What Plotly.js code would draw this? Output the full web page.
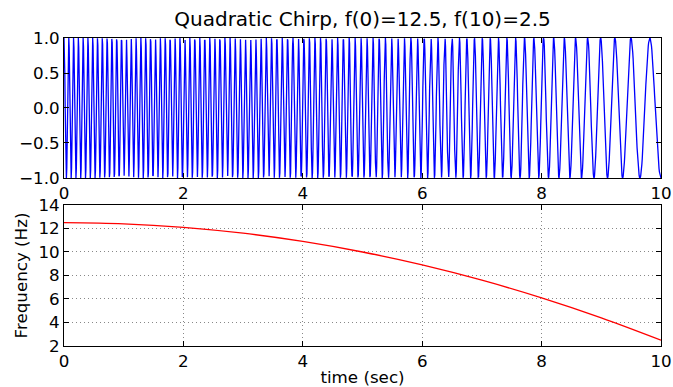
<!DOCTYPE html>
<html>
<head>
<meta charset="utf-8">
<script src="https://cdn.plot.ly/plotly-3.0.1.min.js"></script>
<style>html,body{margin:0;padding:0;background:#fff;}#chart{width:673px;height:387px;}</style>
</head>
<body>
<div id="chart"></div>
<script>
// Frequency readings (Hz) at whole seconds
const freqTimes = [0, 1, 2, 3, 4, 5, 6, 7, 8, 9, 10];
const freqValues = [12.5, 12.4, 12.1, 11.6, 10.9, 10.0, 8.9, 7.6, 6.1, 4.4, 2.5];
const xTicks = [0, 2, 4, 6, 8, 10];
const topYTicks = [-1.0, -0.5, 0.0, 0.5, 1.0];
const bottomYTicks = [2, 4, 6, 8, 10, 12, 14];
const sampleCount = 1500;

// Waveform derived from the frequency readings: cos of the accumulated phase
function freqAt(t) {
  for (let i = 0; i < freqTimes.length - 1; i++) {
    if (t <= freqTimes[i + 1]) {
      const a = (t - freqTimes[i]) / (freqTimes[i + 1] - freqTimes[i]);
      return freqValues[i] + a * (freqValues[i + 1] - freqValues[i]);
    }
  }
  return freqValues[freqValues.length - 1];
}
const sigT = [], sigY = [];
let phase = 0, prevT = 0, prevF = freqAt(0);
for (let i = 0; i < sampleCount; i++) {
  const t = 10 * i / (sampleCount - 1);
  const f = freqAt(t);
  phase += 0.5 * (f + prevF) * (t - prevT);
  prevT = t; prevF = f;
  sigT.push(t);
  sigY.push(Math.cos(2 * Math.PI * phase));
}

const tickFont = {family: 'DejaVu Sans', size: 16.7, color: '#000'};
const baseAxis = {
  showline: true, linecolor: '#000', linewidth: 1, mirror: 'ticks',
  ticks: 'inside', ticklen: 5, tickcolor: '#000', tickwidth: 1,
  zeroline: false, tickfont: tickFont
};

const data = [
  {x: sigT, y: sigY, xaxis: 'x', yaxis: 'y', mode: 'lines',
   line: {color: '#0000ff', width: 1.3}, hoverinfo: 'skip'},
  {x: freqTimes, y: freqValues, xaxis: 'x2', yaxis: 'y2', mode: 'lines',
   line: {color: '#ff0000', width: 1.3, shape: 'spline'}, hoverinfo: 'skip'}
];

const layout = {
  width: 673, height: 387,
  margin: {l: 64, r: 12, t: 38, b: 41},
  paper_bgcolor: '#fff', plot_bgcolor: '#fff',
  showlegend: false,
  font: {family: 'DejaVu Sans', color: '#000'},
  title: {text: 'Quadratic Chirp, f(0)=12.5, f(10)=2.5', x: 0.5, xref: 'paper',
          y: 0.952, yref: 'container', yanchor: 'middle', pad: {t: 0, b: 0},
          font: {family: 'DejaVu Sans', size: 20, color: '#000'}},
  xaxis: Object.assign({}, baseAxis, {domain: [0, 1], anchor: 'y', range: [0, 10],
    tickvals: xTicks, ticktext: xTicks.map(String), showgrid: false}),
  yaxis: Object.assign({}, baseAxis, {domain: [0.5455, 1], anchor: 'x', range: [-1, 1],
    tickvals: topYTicks, ticktext: topYTicks.map(v => (v < 0 ? '\u2212' : '') + Math.abs(v).toFixed(1)),
    showgrid: false}),
  xaxis2: Object.assign({}, baseAxis, {domain: [0, 1], anchor: 'y2', range: [0, 10],
    tickvals: xTicks, ticktext: xTicks.map(String),
    showgrid: true, gridcolor: '#888', gridwidth: 1, griddash: '1px,3px',
    title: {text: 'time (sec)', standoff: 2, font: {family: 'DejaVu Sans', size: 16.7, color: '#000'}}}),
  yaxis2: Object.assign({}, baseAxis, {domain: [0, 0.4578], anchor: 'x2', range: [2, 14],
    tickvals: bottomYTicks, ticktext: bottomYTicks.map(String),
    showgrid: true, gridcolor: '#888', gridwidth: 1, griddash: '1px,3px',
    title: {text: 'Frequency (Hz)', standoff: 6, font: {family: 'DejaVu Sans', size: 16.7, color: '#000'}}})
};

Plotly.newPlot('chart', data, layout, {staticPlot: true, displayModeBar: false});
</script>
</body>
</html>
